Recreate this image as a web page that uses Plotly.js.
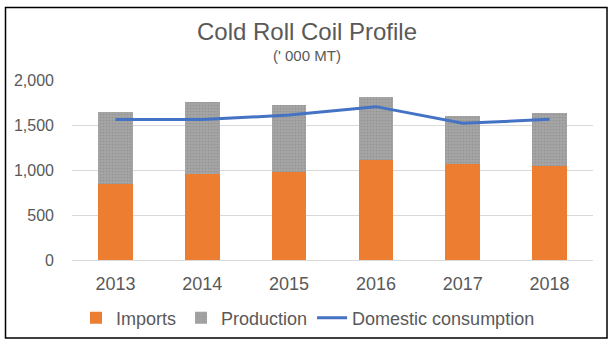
<!DOCTYPE html>
<html>
<head>
<meta charset="utf-8">
<script src="https://cdn.plot.ly/plotly-3.0.1.min.js"></script>
<style>
html,body{margin:0;padding:0;background:#fff;}
#chart{width:614px;height:346px;}
</style>
</head>
<body>
<div id="chart"></div>
<script>
var years = ['2013', '2014', '2015', '2016', '2017', '2018'];
var imports = [841, 952, 974, 1107, 1063, 1041];
var production = [800, 803, 748, 704, 537, 592];
var domesticConsumption = [1560, 1560, 1610, 1704, 1519, 1563];
var yTicks = [0, 500, 1000, 1500, 2000];
var yTickLabels = ['0', '500', '1,000', '1,500', '2,000'];

var W = 614, H = 346;
var mL = 72, mR = 21, mT = 80, mB = 86;
var pw = W - mL - mR, ph = H - mT - mB;
function px2x(px){ return (px - mL) / pw; }
function py2y(py){ return (H - mB - py) / ph; }

var textColor = '#595959';
var font = 'Arial, "Liberation Sans", sans-serif';

var traces = [
  {
    type: 'bar', name: 'Imports', x: years, y: imports,
    marker: {color: '#ed7d31', line: {width: 0}},
    hoverinfo: 'skip'
  },
  {
    type: 'bar', name: 'Production', x: years, y: production,
    marker: {color: '#a5a5a5', line: {width: 0},
      pattern: {shape: '.', bgcolor: '#a5a5a5', fgcolor: '#939393', size: 3, solidity: 0.25}},
    hoverinfo: 'skip'
  },
  {
    type: 'scatter', mode: 'lines', name: 'Domestic consumption', x: years, y: domesticConsumption,
    line: {color: '#4472c4', width: 3},
    hoverinfo: 'skip'
  }
];

var layout = {
  width: W, height: H,
  margin: {l: mL, r: mR, t: mT, b: mB, pad: 0, autoexpand: false},
  paper_bgcolor: '#ffffff', plot_bgcolor: '#ffffff',
  barmode: 'stack', bargap: 0.6,
  font: {family: font, color: textColor, size: 16},
  title: {text: 'Cold Roll Coil Profile', font: {family: font, size: 24, color: textColor},
    x: px2x(307), xanchor: 'center', xref: 'paper', y: 1 - 32/H, yanchor: 'middle', yref: 'container'},
  xaxis: {
    type: 'category', showgrid: false, zeroline: false, showline: false, automargin: false,
    ticks: '', tickfont: {size: 18, color: textColor}, ticklabelstandoff: 11, tickangle: 0
  },
  yaxis: {
    range: [0, 2000], tickvals: yTicks, ticktext: yTickLabels, automargin: false,
    showgrid: true, gridcolor: '#d9d9d9', gridwidth: 1,
    zeroline: true, zerolinecolor: '#d9d9d9', zerolinewidth: 1,
    showline: false, ticks: '', tickfont: {size: 16, color: textColor},
    ticklabelstandoff: 17, fixedrange: true
  },
  showlegend: true,
  legend: {orientation: 'h', xref: 'paper', x: px2x(308), xanchor: 'center', y: py2y(318), yanchor: 'middle',
    font: {size: 18, color: textColor}, itemwidth: 30, traceorder: 'normal', entrywidthmode: 'pixels'},
  annotations: [
    {text: "(' 000 MT)", xref: 'paper', yref: 'paper', x: px2x(307), y: py2y(55), xanchor: 'center', yanchor: 'middle',
      showarrow: false, font: {family: font, size: 15, color: textColor}}
  ],
  shapes: [
    {type: 'rect', xref: 'paper', yref: 'paper', x0: px2x(5.5), x1: px2x(607), y0: py2y(338), y1: py2y(7.5),
      line: {color: '#000000', width: 1.5}, fillcolor: 'rgba(0,0,0,0)', layer: 'above'}
  ]
};

Plotly.newPlot('chart', traces, layout, {displayModeBar: false, staticPlot: true});
</script>
</body>
</html>
